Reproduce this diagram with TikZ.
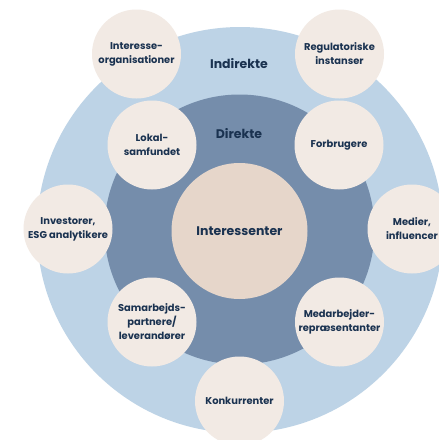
\documentclass[tikz,border=0pt]{standalone}
\usepackage{fontspec}
\setmainfont{Poppins}
\definecolor{outerc}{HTML}{BDD3E6}
\definecolor{innerc}{HTML}{758DAB}
\definecolor{centerc}{HTML}{E6D6CA}
\definecolor{smallc}{HTML}{F2EAE4}
\definecolor{txtc}{HTML}{1A3250}
\begin{document}
\begin{tikzpicture}[x=1pt,y=-1pt,
  small/.style={circle,fill=smallc,minimum size=89pt,inner sep=0pt,align=center,text=txtc,font=\fontsize{9.9}{14}\selectfont\bfseries},
  ringlabel/.style={text=txtc,font=\fontsize{12.5}{14}\selectfont\bfseries}]
\useasboundingbox (0,0) rectangle (439,440);
\clip (0,0) rectangle (439,440);
\fill[white] (0,0) rectangle (439,440);
\node[circle,fill=outerc,minimum size=406pt,inner sep=0pt] (outer) at (240,230) {};
\node[circle,fill=innerc,minimum size=270pt,inner sep=0pt] (inner) at (239.5,229.5) {};
\node[circle,fill=centerc,minimum size=136pt,inner sep=0pt,text=txtc,font=\fontsize{12.5}{14}\selectfont\bfseries] (center) at (239.5,231) {Interessenter};
\node[ringlabel] (ind) at (239,64) {Indirekte};
\node[ringlabel] (dir) at (239,134) {Direkte};
\node[small] (org) at (136.5,54) {Interesse-\\organisationer};
\node[small] (reg) at (339.5,54) {Regulatoriske\\instanser};
\node[small] (lok) at (152,145) {Lokal-\\samfundet};
\node[small] (for) at (339,145) {Forbrugere};
\node[small] (inv) at (68,229) {Investorer,\\ESG analytikere};
\node[small] (med) at (412,229) {Medier,\\influencer};
\node[small] (sam) at (152,322) {Samarbejds-\\partnere/\\leverandører};
\node[small] (mea) at (339.5,322) {Medarbejder-\\repræsentanter};
\node[small] (kon) at (239.5,401) {Konkurrenter};
\end{tikzpicture}
\end{document}
